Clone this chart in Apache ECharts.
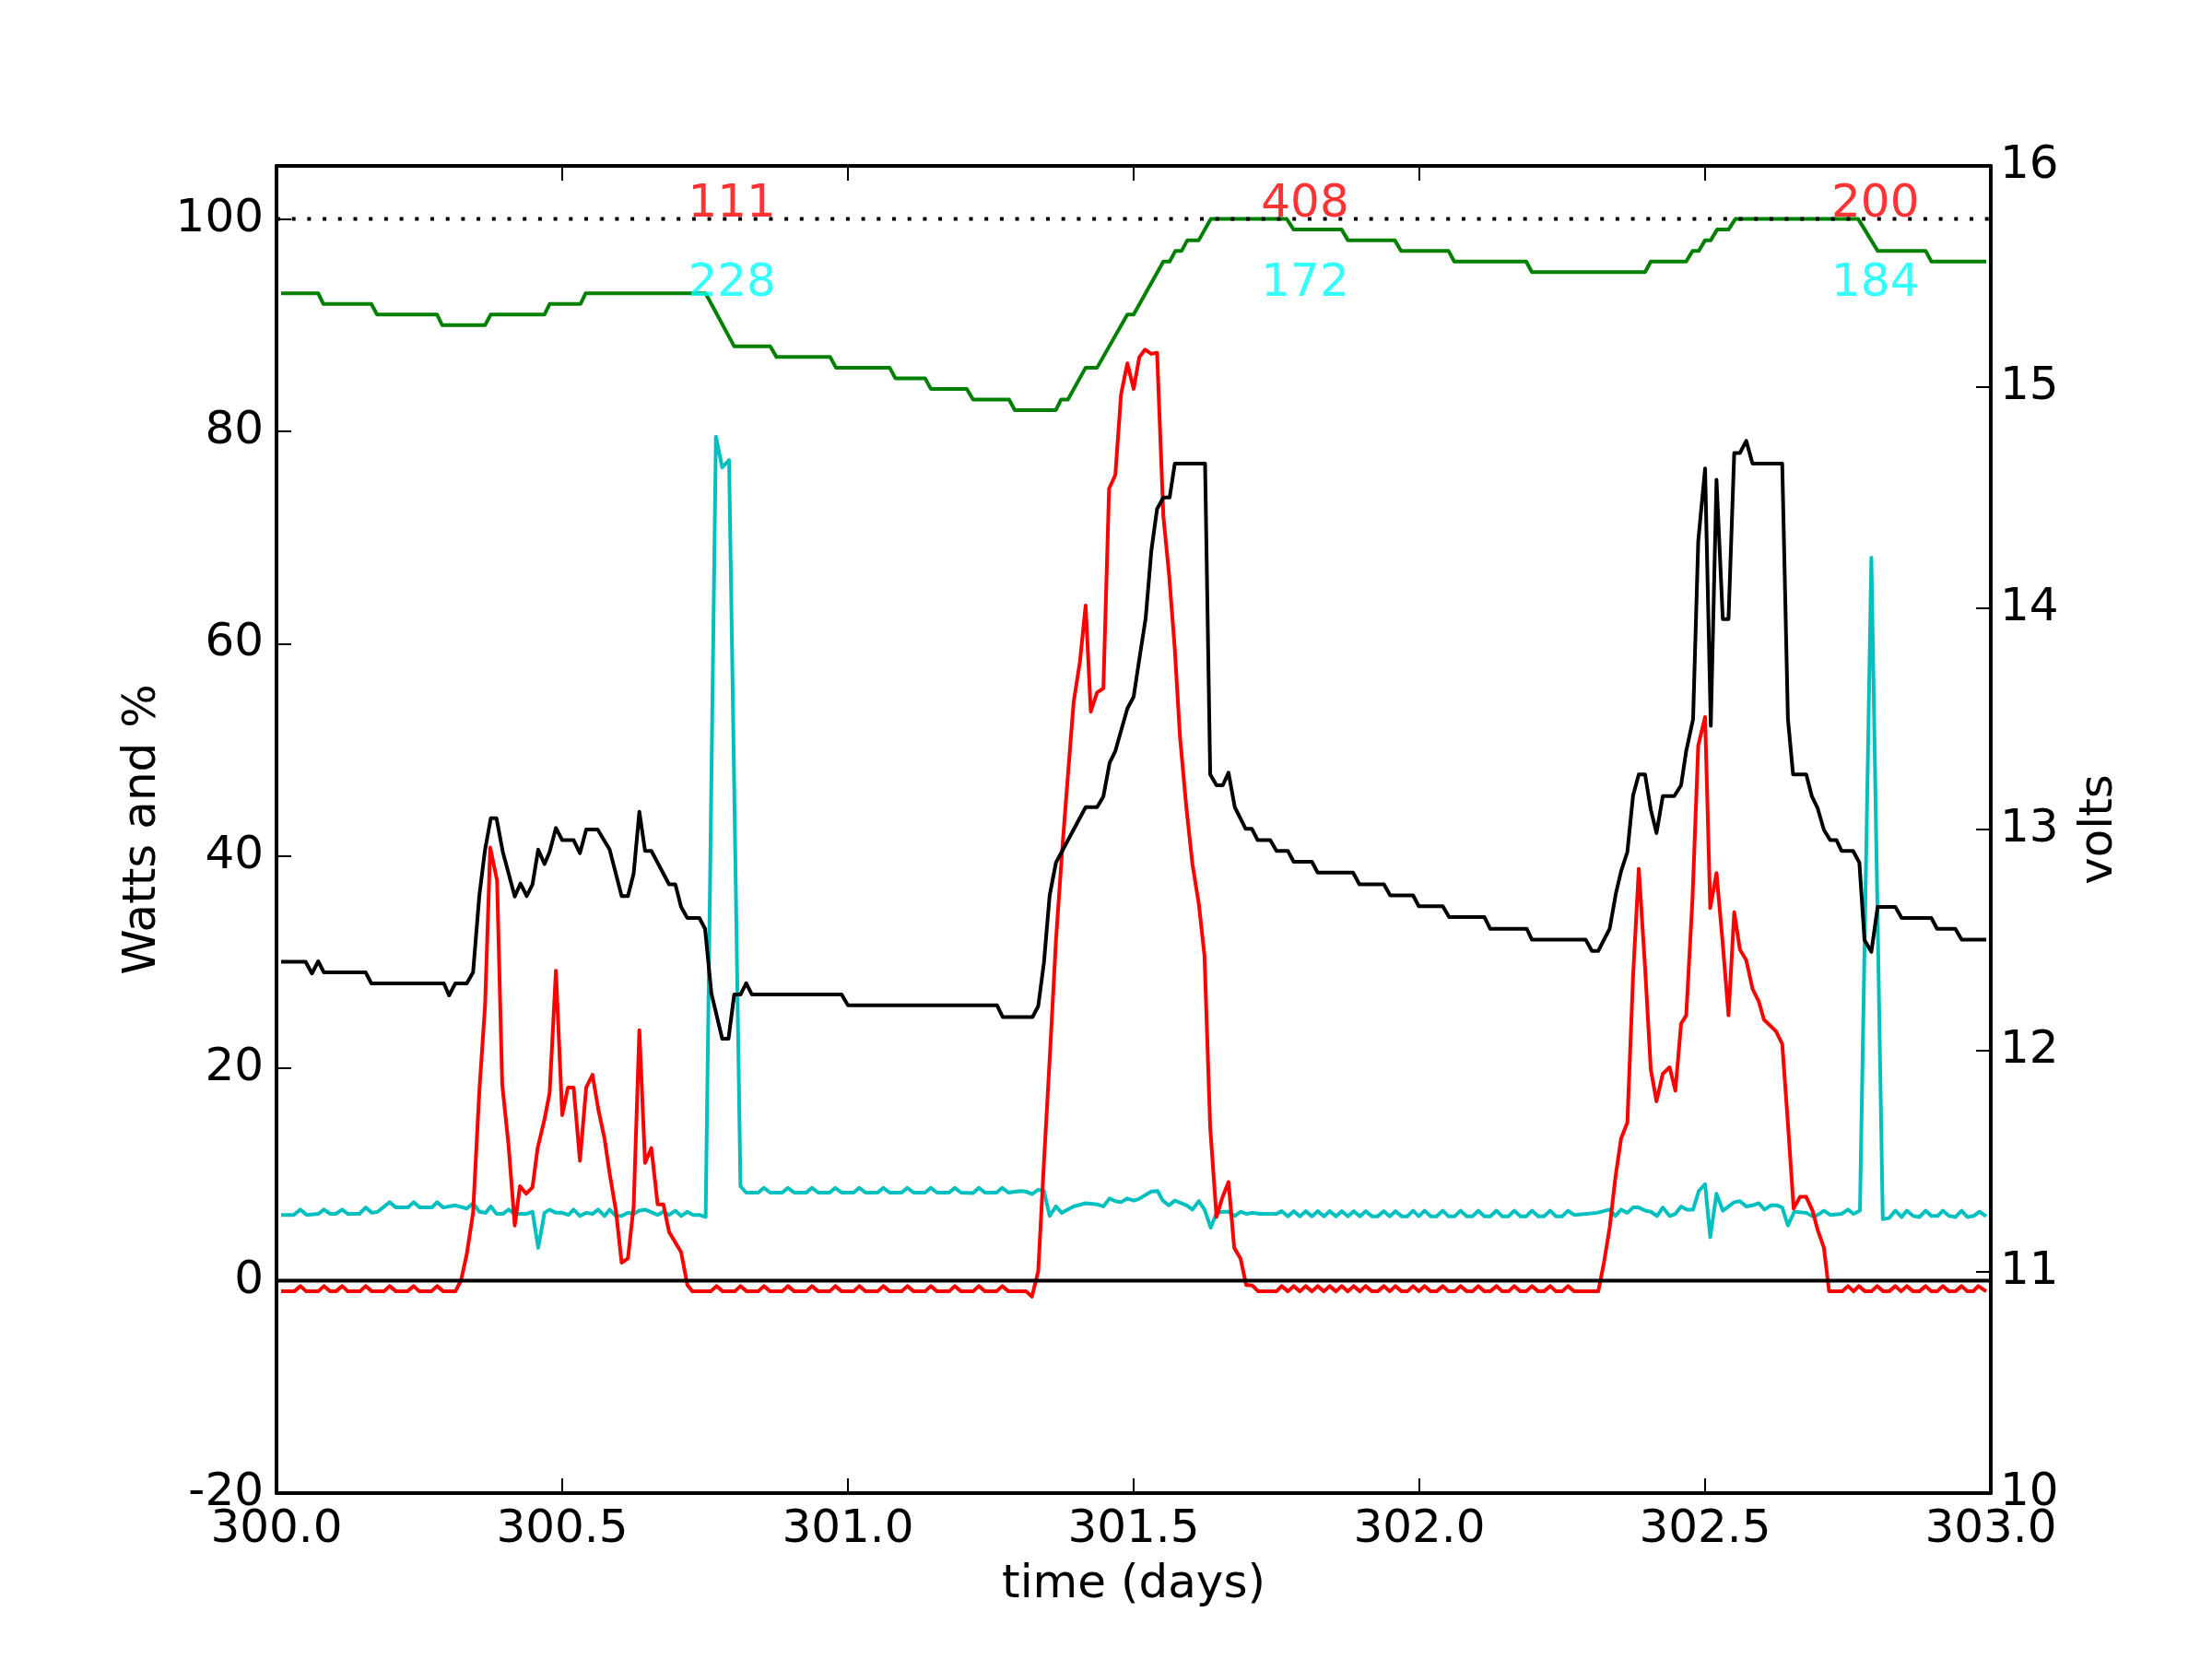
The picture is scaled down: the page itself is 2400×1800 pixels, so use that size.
<!DOCTYPE html>
<html>
<head>
<meta charset="utf-8">
<script src="https://cdn.jsdelivr.net/npm/echarts@6/dist/echarts.min.js"></script>
<style>
html,body{margin:0;padding:0;background:#fff;}
#chart{width:2400px;height:1800px;}
</style>
</head>
<body>
<div id="chart"></div>
<script>
// ---- data (time in days, value) ----
const socPct = [[300.008,93],[300.073,93],[300.082,92],[300.166,92],[300.176,91],[300.281,91],[300.290,90],[300.365,90],[300.375,91],[300.469,91],[300.478,92],[300.532,92],[300.541,93],[300.751,93],[300.801,88],[300.864,88],[300.875,87],[300.969,87],[300.979,86],[301.073,86],[301.083,85],[301.135,85],[301.145,84],[301.208,84],[301.219,83],[301.282,83],[301.292,82],[301.364,82],[301.373,83],[301.385,83],[301.416,86],[301.436,86],[301.489,91],[301.500,91],[301.552,96],[301.563,96],[301.573,97],[301.584,97],[301.594,98],[301.614,98],[301.635,100],[301.768,100],[301.780,99],[301.864,99],[301.875,98],[301.957,98],[301.968,97],[302.051,97],[302.061,96],[302.187,96],[302.197,95],[302.395,95],[302.405,96],[302.467,96],[302.478,97],[302.489,97],[302.500,98],[302.510,98],[302.521,99],[302.541,99],[302.553,100],[302.768,100],[302.802,97],[302.886,97],[302.896,96],[302.992,96]];

const batteryV = [[300.008,12.402],[300.051,12.402],[300.062,12.349],[300.073,12.404],[300.083,12.354],[300.156,12.354],[300.166,12.304],[300.293,12.304],[300.302,12.250],[300.313,12.304],[300.333,12.304],[300.344,12.354],[300.355,12.702],[300.365,12.909],[300.375,13.051],[300.385,13.051],[300.396,12.899],[300.417,12.697],[300.427,12.756],[300.438,12.699],[300.448,12.752],[300.458,12.909],[300.469,12.844],[300.478,12.899],[300.489,13.007],[300.500,12.952],[300.520,12.952],[300.531,12.893],[300.542,13.000],[300.562,13.000],[300.583,12.909],[300.604,12.699],[300.615,12.699],[300.625,12.801],[300.635,13.080],[300.645,12.903],[300.656,12.903],[300.687,12.752],[300.698,12.752],[300.708,12.650],[300.719,12.600],[300.740,12.600],[300.750,12.551],[300.761,12.260],[300.780,12.054],[300.791,12.054],[300.801,12.254],[300.812,12.254],[300.822,12.305],[300.832,12.254],[300.989,12.254],[301.000,12.205],[301.261,12.205],[301.271,12.152],[301.323,12.152],[301.333,12.201],[301.343,12.398],[301.353,12.702],[301.364,12.850],[301.416,13.101],[301.436,13.101],[301.447,13.149],[301.458,13.302],[301.468,13.355],[301.489,13.547],[301.500,13.600],[301.509,13.754],[301.521,13.955],[301.531,14.261],[301.541,14.449],[301.552,14.501],[301.563,14.501],[301.572,14.654],[301.625,14.654],[301.634,13.249],[301.645,13.200],[301.656,13.200],[301.666,13.257],[301.677,13.101],[301.696,13.003],[301.707,13.003],[301.717,12.952],[301.739,12.952],[301.750,12.903],[301.770,12.903],[301.780,12.854],[301.812,12.854],[301.822,12.805],[301.884,12.805],[301.895,12.752],[301.938,12.752],[301.949,12.702],[301.989,12.702],[301.999,12.653],[302.041,12.653],[302.052,12.604],[302.114,12.604],[302.124,12.551],[302.188,12.551],[302.197,12.502],[302.291,12.502],[302.302,12.451],[302.313,12.451],[302.333,12.551],[302.344,12.712],[302.353,12.811],[302.364,12.899],[302.374,13.154],[302.384,13.249],[302.395,13.249],[302.405,13.090],[302.415,12.984],[302.426,13.151],[302.446,13.151],[302.458,13.200],[302.467,13.355],[302.479,13.499],[302.488,14.303],[302.500,14.632],[302.510,13.469],[302.520,14.581],[302.531,13.951],[302.541,13.951],[302.551,14.702],[302.561,14.702],[302.572,14.757],[302.583,14.654],[302.635,14.654],[302.645,13.499],[302.654,13.249],[302.677,13.249],[302.687,13.149],[302.697,13.096],[302.708,12.998],[302.719,12.952],[302.730,12.952],[302.739,12.903],[302.759,12.903],[302.770,12.850],[302.779,12.500],[302.791,12.447],[302.802,12.650],[302.833,12.650],[302.844,12.600],[302.896,12.600],[302.906,12.551],[302.938,12.551],[302.949,12.502],[302.992,12.502]];

const solarW = [[300.008,-1],[300.031,-1],[300.042,-0.5],[300.052,-1],[300.073,-1],[300.083,-0.5],[300.094,-1],[300.104,-1],[300.115,-0.5],[300.125,-1],[300.146,-1],[300.156,-0.5],[300.167,-1],[300.188,-1],[300.198,-0.5],[300.209,-1],[300.229,-1],[300.240,-0.5],[300.250,-1],[300.271,-1],[300.281,-0.5],[300.292,-1],[300.313,-1],
[300.323,0.05],[300.333,2.5],[300.344,6.4],[300.355,17.9],[300.365,25.9],[300.374,40.8],[300.386,37.7],[300.395,18.5],[300.406,12.8],[300.417,5.2],[300.426,8.9],[300.437,8.2],[300.448,8.8],[300.457,12.5],[300.469,15.2],[300.478,17.7],[300.489,29.2],[300.500,15.6],[300.510,18.2],[300.520,18.2],[300.531,11.3],[300.542,18.2],[300.553,19.4],[300.563,16.2],[300.574,13.4],[300.583,10.1],[300.594,6.6],[300.604,1.7],[300.615,2.1],[300.625,7.0],[300.635,23.6],[300.645,11.1],[300.656,12.5],[300.667,7.2],[300.677,7.2],[300.687,4.6],[300.708,2.7],[300.719,-0.4],[300.728,-1],
[300.760,-1],[300.770,-0.5],[300.781,-1],[300.802,-1],[300.812,-0.5],[300.823,-1],[300.843,-1],[300.853,-0.5],[300.864,-1],[300.885,-1],[300.895,-0.5],[300.906,-1],[300.927,-1],[300.937,-0.5],[300.948,-1],[300.968,-1],[300.978,-0.5],[300.989,-1],[301.010,-1],[301.020,-0.5],[301.031,-1],[301.052,-1],[301.062,-0.5],[301.073,-1],[301.094,-1],[301.104,-0.5],[301.115,-1],[301.135,-1],[301.145,-0.5],[301.156,-1],[301.177,-1],[301.187,-0.5],[301.198,-1],[301.219,-1],[301.229,-0.5],[301.240,-1],[301.260,-1],[301.270,-0.5],[301.281,-1],[301.312,-1],
[301.322,-1.5],[301.333,0.9],[301.343,11.1],[301.354,21.8],[301.364,32.0],[301.375,40.6],[301.385,47.6],[301.395,54.5],[301.406,58.3],[301.416,63.6],[301.425,53.6],[301.436,55.4],[301.447,55.8],[301.457,74.6],[301.468,75.9],[301.478,83.5],[301.489,86.4],[301.500,84.0],[301.510,87.0],[301.520,87.7],[301.531,87.3],[301.541,87.4],[301.552,72.0],[301.562,66.5],[301.572,59.5],[301.581,51.3],[301.592,44.7],[301.603,39.2],[301.614,35.5],[301.624,30.6],[301.634,14.4],[301.645,6.0],[301.655,7.8],[301.666,9.3],[301.676,3.1],[301.687,2.1],[301.697,-0.4],[301.708,-0.45],[301.718,-1],[301.750,-1],
[301.759,-0.5],[301.770,-1],[301.780,-0.5],[301.791,-1],[301.801,-0.5],[301.812,-1],[301.822,-0.5],[301.833,-1],[301.843,-0.5],[301.854,-1],[301.864,-0.5],[301.875,-1],[301.885,-0.5],[301.896,-1],[301.906,-0.5],[301.917,-1],[301.927,-1],[301.938,-0.5],[301.948,-1],[301.958,-0.5],[301.969,-1],[301.979,-1],[301.989,-0.5],[301.999,-1],[302.009,-0.5],[302.020,-1],[302.030,-1],[302.041,-0.5],[302.051,-1],[302.062,-1],[302.072,-0.5],[302.083,-1],[302.093,-1],[302.103,-0.5],[302.114,-1],[302.124,-1],[302.135,-0.5],[302.145,-1],[302.156,-1],[302.166,-0.5],[302.177,-1],[302.187,-1],[302.197,-0.5],[302.208,-1],[302.218,-1],[302.229,-0.5],[302.239,-1],[302.250,-1],[302.260,-0.5],[302.271,-1],[302.313,-1],
[302.323,1.7],[302.333,5.0],[302.343,9.7],[302.353,13.4],[302.364,14.9],[302.374,28.7],[302.384,38.8],[302.395,29.5],[302.405,19.9],[302.415,16.9],[302.426,19.5],[302.438,20.1],[302.448,17.9],[302.458,24.2],[302.467,25.0],[302.478,36.0],[302.488,50.4],[302.500,53.1],[302.509,35.1],[302.520,38.4],[302.531,31.7],[302.541,25.0],[302.551,34.7],[302.561,31.2],[302.572,30.2],[302.583,27.5],[302.594,26.3],[302.603,24.6],[302.624,23.5],[302.635,22.3],[302.645,14.8],[302.655,6.8],[302.666,7.9],[302.677,7.9],[302.688,6.6],[302.697,4.8],[302.708,3.1],[302.717,-1],
[302.740,-1],[302.750,-0.5],[302.760,-1],[302.769,-0.5],[302.780,-1],[302.791,-1],[302.801,-0.5],[302.812,-1],[302.822,-1],[302.833,-0.5],[302.843,-1],[302.853,-0.5],[302.864,-1],[302.875,-1],[302.886,-0.5],[302.896,-1],[302.906,-1],[302.916,-0.5],[302.927,-1],[302.938,-1],[302.949,-0.5],[302.959,-1],[302.969,-1],[302.978,-0.5],[302.992,-1]];

const loadW = [[300.008,6.2],[300.030,6.2],[300.042,6.7],[300.053,6.2],[300.073,6.3],[300.083,6.7],[300.094,6.3],[300.104,6.3],[300.115,6.7],[300.125,6.3],[300.145,6.3],[300.156,6.9],[300.167,6.4],[300.177,6.5],[300.198,7.4],[300.209,6.9],[300.230,6.9],[300.240,7.4],[300.251,6.9],[300.272,6.9],[300.281,7.4],[300.292,6.9],[300.313,7.1],[300.333,6.8],[300.344,7.3],[300.355,6.5],[300.366,6.4],[300.375,7.0],[300.385,6.3],[300.396,6.3],[300.406,6.7],[300.417,6.3],[300.437,6.3],[300.448,6.5],[300.458,3.1],[300.469,6.4],[300.478,6.7],[300.489,6.4],[300.500,6.4],[300.511,6.2],[300.520,6.7],[300.531,6.1],[300.542,6.4],[300.553,6.3],[300.563,6.7],[300.574,6.1],[300.583,6.7],[300.594,6.1],[300.604,6.1],[300.615,6.4],[300.625,6.3],[300.635,6.6],[300.645,6.7],[300.667,6.2],[300.677,6.5],[300.687,6.2],[300.698,6.6],[300.708,6.1],[300.719,6.5],[300.729,6.2],[300.740,6.2],[300.751,6.0],
[300.769,79.5],[300.780,76.6],[300.792,77.3],[300.812,8.9],
[300.822,8.3],[300.843,8.3],[300.853,8.75],[300.864,8.3],[300.885,8.3],[300.895,8.75],[300.906,8.3],[300.927,8.3],[300.937,8.75],[300.948,8.3],[300.968,8.3],[300.978,8.75],[300.989,8.3],[301.010,8.3],[301.020,8.75],[301.031,8.3],[301.052,8.3],[301.062,8.75],[301.073,8.3],[301.094,8.3],[301.104,8.75],[301.115,8.3],[301.135,8.3],[301.145,8.75],[301.156,8.3],[301.177,8.3],[301.187,8.75],[301.198,8.3],[301.219,8.25],[301.229,8.75],[301.240,8.3],[301.260,8.3],[301.270,8.75],[301.281,8.3],[301.301,8.45],[301.312,8.4],[301.322,8.16],[301.333,8.57],[301.343,8.45],
[301.353,6.1],[301.364,7.0],[301.374,6.4],[301.395,7.0],[301.416,7.3],[301.436,7.2],[301.447,7.0],[301.458,7.75],[301.468,7.5],[301.478,7.4],[301.489,7.75],[301.500,7.55],[301.509,7.7],[301.531,8.4],[301.542,8.45],[301.551,7.55],[301.562,7.1],[301.572,7.55],[301.593,7.1],[301.603,6.7],[301.614,7.5],[301.624,6.7],[301.635,5.0],[301.645,6.4],[301.656,6.5],[301.666,6.5],[301.677,6.1],[301.687,6.5],[301.698,6.3],[301.708,6.4],[301.720,6.3],[301.750,6.3],
[301.759,6.55],[301.770,6.07],[301.780,6.55],[301.791,6.07],[301.801,6.55],[301.812,6.07],[301.822,6.55],[301.833,6.07],[301.843,6.55],[301.854,6.07],[301.864,6.55],[301.875,6.07],[301.885,6.55],[301.896,6.07],[301.906,6.55],[301.917,6.07],[301.927,6.07],[301.938,6.55],[301.948,6.07],[301.958,6.55],[301.969,6.07],[301.979,6.07],[301.989,6.6],[301.999,6.07],[302.009,6.6],[302.020,6.07],[302.030,6.07],[302.041,6.6],[302.051,6.07],[302.062,6.07],[302.072,6.6],[302.083,6.07],[302.093,6.07],[302.103,6.6],[302.114,6.07],[302.124,6.07],[302.135,6.6],[302.145,6.07],[302.156,6.07],[302.166,6.6],[302.177,6.07],[302.187,6.07],[302.197,6.6],[302.208,6.07],[302.218,6.07],[302.229,6.6],[302.239,6.07],[302.250,6.07],[302.260,6.6],[302.271,6.2],
[302.311,6.4],[302.333,6.7],[302.343,6.1],[302.353,6.7],[302.364,6.4],[302.374,6.9],[302.384,6.9],[302.395,6.6],[302.405,6.5],[302.416,6.1],[302.426,6.9],[302.438,6.1],[302.448,6.3],[302.458,7.0],[302.468,6.7],[302.479,6.7],[302.489,8.45],[302.500,9.1],[302.509,4.1],[302.520,8.2],[302.531,6.6],[302.551,7.4],[302.561,7.5],[302.572,7.0],[302.583,7.1],[302.594,7.3],[302.604,6.7],[302.615,7.1],[302.626,7.1],[302.635,6.9],[302.645,5.2],[302.656,6.5],[302.677,6.4],[302.687,6.1],[302.697,6.2],[302.708,6.6],[302.719,6.2],[302.739,6.3],[302.750,6.7],[302.760,6.3],[302.771,6.6],
[302.791,68.1],[302.811,5.8],
[302.822,5.9],[302.833,6.6],[302.844,6.0],[302.853,6.6],[302.864,6.1],[302.875,6.0],[302.886,6.6],[302.896,6.1],[302.907,6.1],[302.916,6.6],[302.927,6.1],[302.938,6.0],[302.949,6.6],[302.959,6.0],[302.970,6.1],[302.980,6.5],[302.992,6.07]];

// reference lines
const fullLine = [[300, 100], [303, 100]];
const zeroLine = [[300, 0], [303, 0]];

// daily totals annotations
const annotX = [300.797, 301.800, 302.798];
const solarTotals = ['111', '408', '200'];
const loadTotals = ['228', '172', '184'];
const solarTextY = 100;
const loadTextY = 92.5;

const FONT = 'DejaVu Sans';
const chart = echarts.init(document.getElementById('chart'), null, {renderer: 'canvas'});

function lineSeries(name, data, color, yIdx, z) {
  return {
    name: name, type: 'line', data: data, xAxisIndex: 0, yAxisIndex: yIdx,
    showSymbol: false, symbol: 'none', silent: true, z: z,
    lineStyle: {color: color, width: 4, join: 'round', cap: 'butt'},
    emphasis: {disabled: true}
  };
}
function textSeries(values, y, color) {
  return {
    type: 'scatter', xAxisIndex: 0, yAxisIndex: 0, silent: true, z: 20,
    symbolSize: 1, itemStyle: {color: 'rgba(0,0,0,0)'},
    data: annotX.map((x, i) => [x, y, values[i]]),
    label: {
      show: true, position: 'inside', align: 'center', verticalAlign: 'bottom',
      offset: [0, 9], formatter: p => p.data[2],
      fontFamily: FONT, fontSize: 50, lineHeight: 50, color: color
    },
    emphasis: {disabled: true}
  };
}

const axisLineStyle = {show: true, onZero: false, lineStyle: {color: '#000', width: 4}};
const tickStyle = {show: true, inside: true, length: 16, lineStyle: {color: '#000', width: 2}};
const labelBase = {fontFamily: FONT, fontSize: 50, color: '#000'};

chart.setOption({
  animation: false,
  backgroundColor: '#ffffff',
  grid: {left: 300, right: 240, top: 180, bottom: 180, containLabel: false},
  xAxis: [
    {
      type: 'value', min: 300, max: 303, interval: 0.5, position: 'bottom',
      name: 'time (days)', nameLocation: 'middle', nameGap: 75,
      nameTextStyle: labelBase,
      axisLine: axisLineStyle, axisTick: tickStyle,
      axisLabel: Object.assign({margin: 15, showMinLabel: true, showMaxLabel: true,
        formatter: v => v.toFixed(1)}, labelBase),
      splitLine: {show: false}
    },
    {
      type: 'value', min: 300, max: 303, interval: 0.5, position: 'top',
      axisLine: axisLineStyle, axisTick: tickStyle,
      axisLabel: {show: false}, splitLine: {show: false}
    }
  ],
  yAxis: [
    {
      type: 'value', min: -20, max: 105, interval: 20, position: 'left',
      name: 'Watts and %', nameLocation: 'middle', nameRotate: 90, nameGap: 112,
      nameTextStyle: labelBase,
      axisLine: axisLineStyle, axisTick: tickStyle,
      axisLabel: Object.assign({margin: 14, showMaxLabel: false, showMinLabel: true,
        padding: [6, 0, 0, 0]}, labelBase),
      splitLine: {show: false}
    },
    {
      type: 'value', min: 10, max: 16, interval: 1, position: 'right',
      name: 'volts', nameLocation: 'middle', nameRotate: 90, nameGap: 93,
      nameTextStyle: labelBase,
      axisLine: axisLineStyle, axisTick: tickStyle,
      axisLabel: Object.assign({margin: 10, showMaxLabel: true, showMinLabel: true,
        padding: [6, 0, 0, 0]}, labelBase),
      splitLine: {show: false}
    }
  ],
  series: [
    lineSeries('load', loadW, '#00bfbf', 0, 2),
    lineSeries('solar', solarW, '#ff0000', 0, 3),
    lineSeries('soc', socPct, '#008000', 0, 4),
    {
      type: 'line', data: zeroLine, xAxisIndex: 0, yAxisIndex: 0, showSymbol: false, symbol: 'none',
      silent: true, z: 5, lineStyle: {color: '#000', width: 4}
    },
    {
      type: 'line', data: fullLine, xAxisIndex: 0, yAxisIndex: 0, showSymbol: false, symbol: 'none',
      silent: true, z: 6, lineStyle: {color: '#000', width: 4, type: [4, 12.7], cap: 'butt'}
    },
    lineSeries('volts', batteryV, '#000000', 1, 7),
    textSeries(solarTotals, solarTextY, '#ff0000'),
    textSeries(loadTotals, loadTextY, '#00ffff')
  ]
});
</script>
</body>
</html>
